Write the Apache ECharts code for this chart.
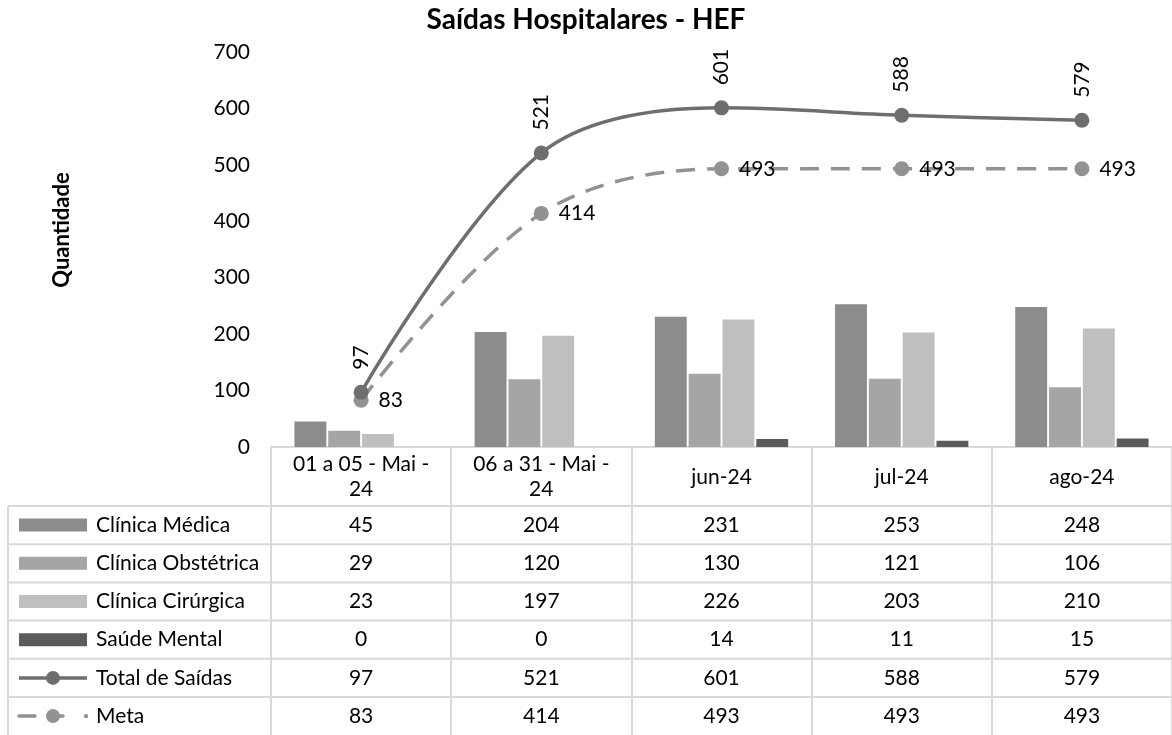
<!DOCTYPE html>
<html>
<head>
<meta charset="utf-8">
<script src="https://cdn.jsdelivr.net/npm/echarts@6/dist/echarts.min.js"></script>
<style>
html,body{margin:0;padding:0;background:#fff;}
#chart{width:1172px;height:735px;}
</style>
</head>
<body>
<div id="chart"></div>
<script>
// ---- data ----
const categories = ['01 a 05 - Mai -\n24', '06 a 31 - Mai -\n24', 'jun-24', 'jul-24', 'ago-24'];
const clinicaMedica = [45, 204, 231, 253, 248];
const clinicaObstetrica = [29, 120, 130, 121, 106];
const clinicaCirurgica = [23, 197, 226, 203, 210];
const saudeMental = [0, 0, 14, 11, 15];
const totalSaidas = [97, 521, 601, 588, 579];
const meta = [83, 414, 493, 493, 493];
const seriesNames = ['Clínica Médica', 'Clínica Obstétrica', 'Clínica Cirúrgica', 'Saúde Mental', 'Total de Saídas', 'Meta'];
const yMin = 0, yMax = 700, yStep = 100;

// ---- styles ----
const FONT = 'Lato';
const FS = 21;
const cBar = ['#8c8c8c', '#a5a5a5', '#bfbfbf', '#5b5b5b'];
const cTotal = '#6e6e6e';
const cMeta = '#929292';
const gridColor = '#d9d9d9';
const metaDash = [19, 12];
const SMOOTH = 0.34;

const chart = echarts.init(document.getElementById('chart'), null, {renderer: 'canvas'});

function barSeries(name, data, color) {
  return {
    name, type: 'bar', data,
    barCategoryGap: '26%', barGap: '6%',
    itemStyle: {color},
    z: 2
  };
}

const option = {
  animation: false,
  backgroundColor: '#ffffff',
  textStyle: {fontFamily: FONT},
  title: {
    text: 'Saídas Hospitalares - HEF',
    left: 'center', top: 1,
    textStyle: {fontFamily: FONT, fontWeight: 'bold', fontSize: 28, color: '#000'}
  },
  grid: {left: 271, top: 52, width: 905, height: 395},
  xAxis: [{
    type: 'category', data: categories,
    axisLine: {lineStyle: {color: gridColor, width: 2}},
    axisTick: {show: true, length: 300, lineStyle: {color: gridColor, width: 2}},
    axisLabel: {color: '#000', fontSize: FS, fontFamily: FONT, lineHeight: 25, verticalAlign: 'middle', margin: 30}
  }],
  yAxis: [{
    type: 'value', min: yMin, max: yMax, interval: yStep,
    axisLine: {show: false}, axisTick: {show: false}, splitLine: {show: false},
    axisLabel: {color: '#000', fontSize: FS, fontFamily: FONT, margin: 21}
  }],
  series: [
    barSeries(seriesNames[0], clinicaMedica, cBar[0]),
    barSeries(seriesNames[1], clinicaObstetrica, cBar[1]),
    barSeries(seriesNames[2], clinicaCirurgica, cBar[2]),
    barSeries(seriesNames[3], saudeMental, cBar[3]),
    {
      name: seriesNames[4], type: 'line', data: totalSaidas, smooth: SMOOTH,
      symbol: 'circle', symbolSize: 15,
      lineStyle: {color: cTotal, width: 3.5},
      itemStyle: {color: cTotal},
      label: {show: true, position: 'top', rotate: 90, align: 'left', verticalAlign: 'middle', distance: 15,
              color: '#000', fontSize: FS, fontFamily: FONT},
      z: 5
    },
    {
      name: seriesNames[5], type: 'line', data: meta, smooth: SMOOTH,
      symbol: 'circle', symbolSize: 15,
      lineStyle: {color: cMeta, width: 3.5, type: metaDash},
      itemStyle: {color: cMeta},
      label: {show: true, position: 'right', distance: 10, color: '#000', fontSize: FS, fontFamily: FONT},
      z: 4
    }
  ]
};
chart.setOption(option);

// ---- data table under the plot ----
function buildTable() {
  const xs = categories.map((_, i) => chart.convertToPixel({xAxisIndex: 0}, i));
  const cw = xs[1] - xs[0];
  const tableLeft = 8;
  const tableRight = xs[xs.length - 1] + cw / 2;
  const rowTop = 506, rowH = 38.2;
  const rows = [
    {name: seriesNames[0], values: clinicaMedica, kind: 'bar', color: cBar[0]},
    {name: seriesNames[1], values: clinicaObstetrica, kind: 'bar', color: cBar[1]},
    {name: seriesNames[2], values: clinicaCirurgica, kind: 'bar', color: cBar[2]},
    {name: seriesNames[3], values: saudeMental, kind: 'bar', color: cBar[3]},
    {name: seriesNames[4], values: totalSaidas, kind: 'line', color: cTotal},
    {name: seriesNames[5], values: meta, kind: 'dash', color: cMeta}
  ];
  const els = [];
  const keyX1 = 19, keyX2 = 87, keyMid = (keyX1 + keyX2) / 2;
  rows.forEach((row, r) => {
    const yTop = rowTop + r * rowH;
    const yc = yTop + rowH / 2;
    els.push({type: 'line', silent: true, shape: {x1: tableLeft, y1: yTop, x2: tableRight, y2: yTop},
              style: {stroke: gridColor, lineWidth: 2}});
    if (row.kind === 'bar') {
      els.push({type: 'rect', shape: {x: keyX1, y: yc - 6.5, width: keyX2 - keyX1, height: 13}, style: {fill: row.color}});
    } else if (row.kind === 'line') {
      els.push({type: 'line', shape: {x1: keyX1, y1: yc, x2: keyX2, y2: yc}, style: {stroke: row.color, lineWidth: 3.5}});
      els.push({type: 'circle', shape: {cx: keyMid, cy: yc, r: 7}, style: {fill: row.color}});
    } else {
      els.push({type: 'line', shape: {x1: keyX1, y1: yc, x2: keyX1 + 16, y2: yc}, style: {stroke: row.color, lineWidth: 3.5, lineCap: 'round'}});
      els.push({type: 'line', shape: {x1: keyMid, y1: yc, x2: keyMid + 10, y2: yc}, style: {stroke: row.color, lineWidth: 3.5, lineCap: 'round'}});
      els.push({type: 'circle', shape: {cx: keyMid, cy: yc, r: 7}, style: {fill: row.color}});
      els.push({type: 'circle', shape: {cx: keyX2 - 1, cy: yc, r: 2.2}, style: {fill: row.color}});
    }
    els.push({type: 'text', x: 96, y: yc,
              style: {text: row.name, fill: '#000', fontSize: FS, fontFamily: FONT, align: 'left', verticalAlign: 'middle'}});
    row.values.forEach((v, i) => {
      els.push({type: 'text', x: xs[i], y: yc,
                style: {text: String(v), fill: '#000', fontSize: FS, fontFamily: FONT, align: 'center', verticalAlign: 'middle'}});
    });
  });
  els.push({type: 'line', shape: {x1: tableLeft, y1: rowTop, x2: tableLeft, y2: 740}, style: {stroke: gridColor, lineWidth: 2}});
  // axis title
  els.push({type: 'text', x: 62, y: 230, rotation: Math.PI / 2,
            style: {text: 'Quantidade', fill: '#000', fontSize: 22, fontWeight: 'bold', fontFamily: FONT, align: 'center', verticalAlign: 'middle'}});
  chart.setOption({graphic: els});
}
buildTable();
</script>
</body>
</html>
